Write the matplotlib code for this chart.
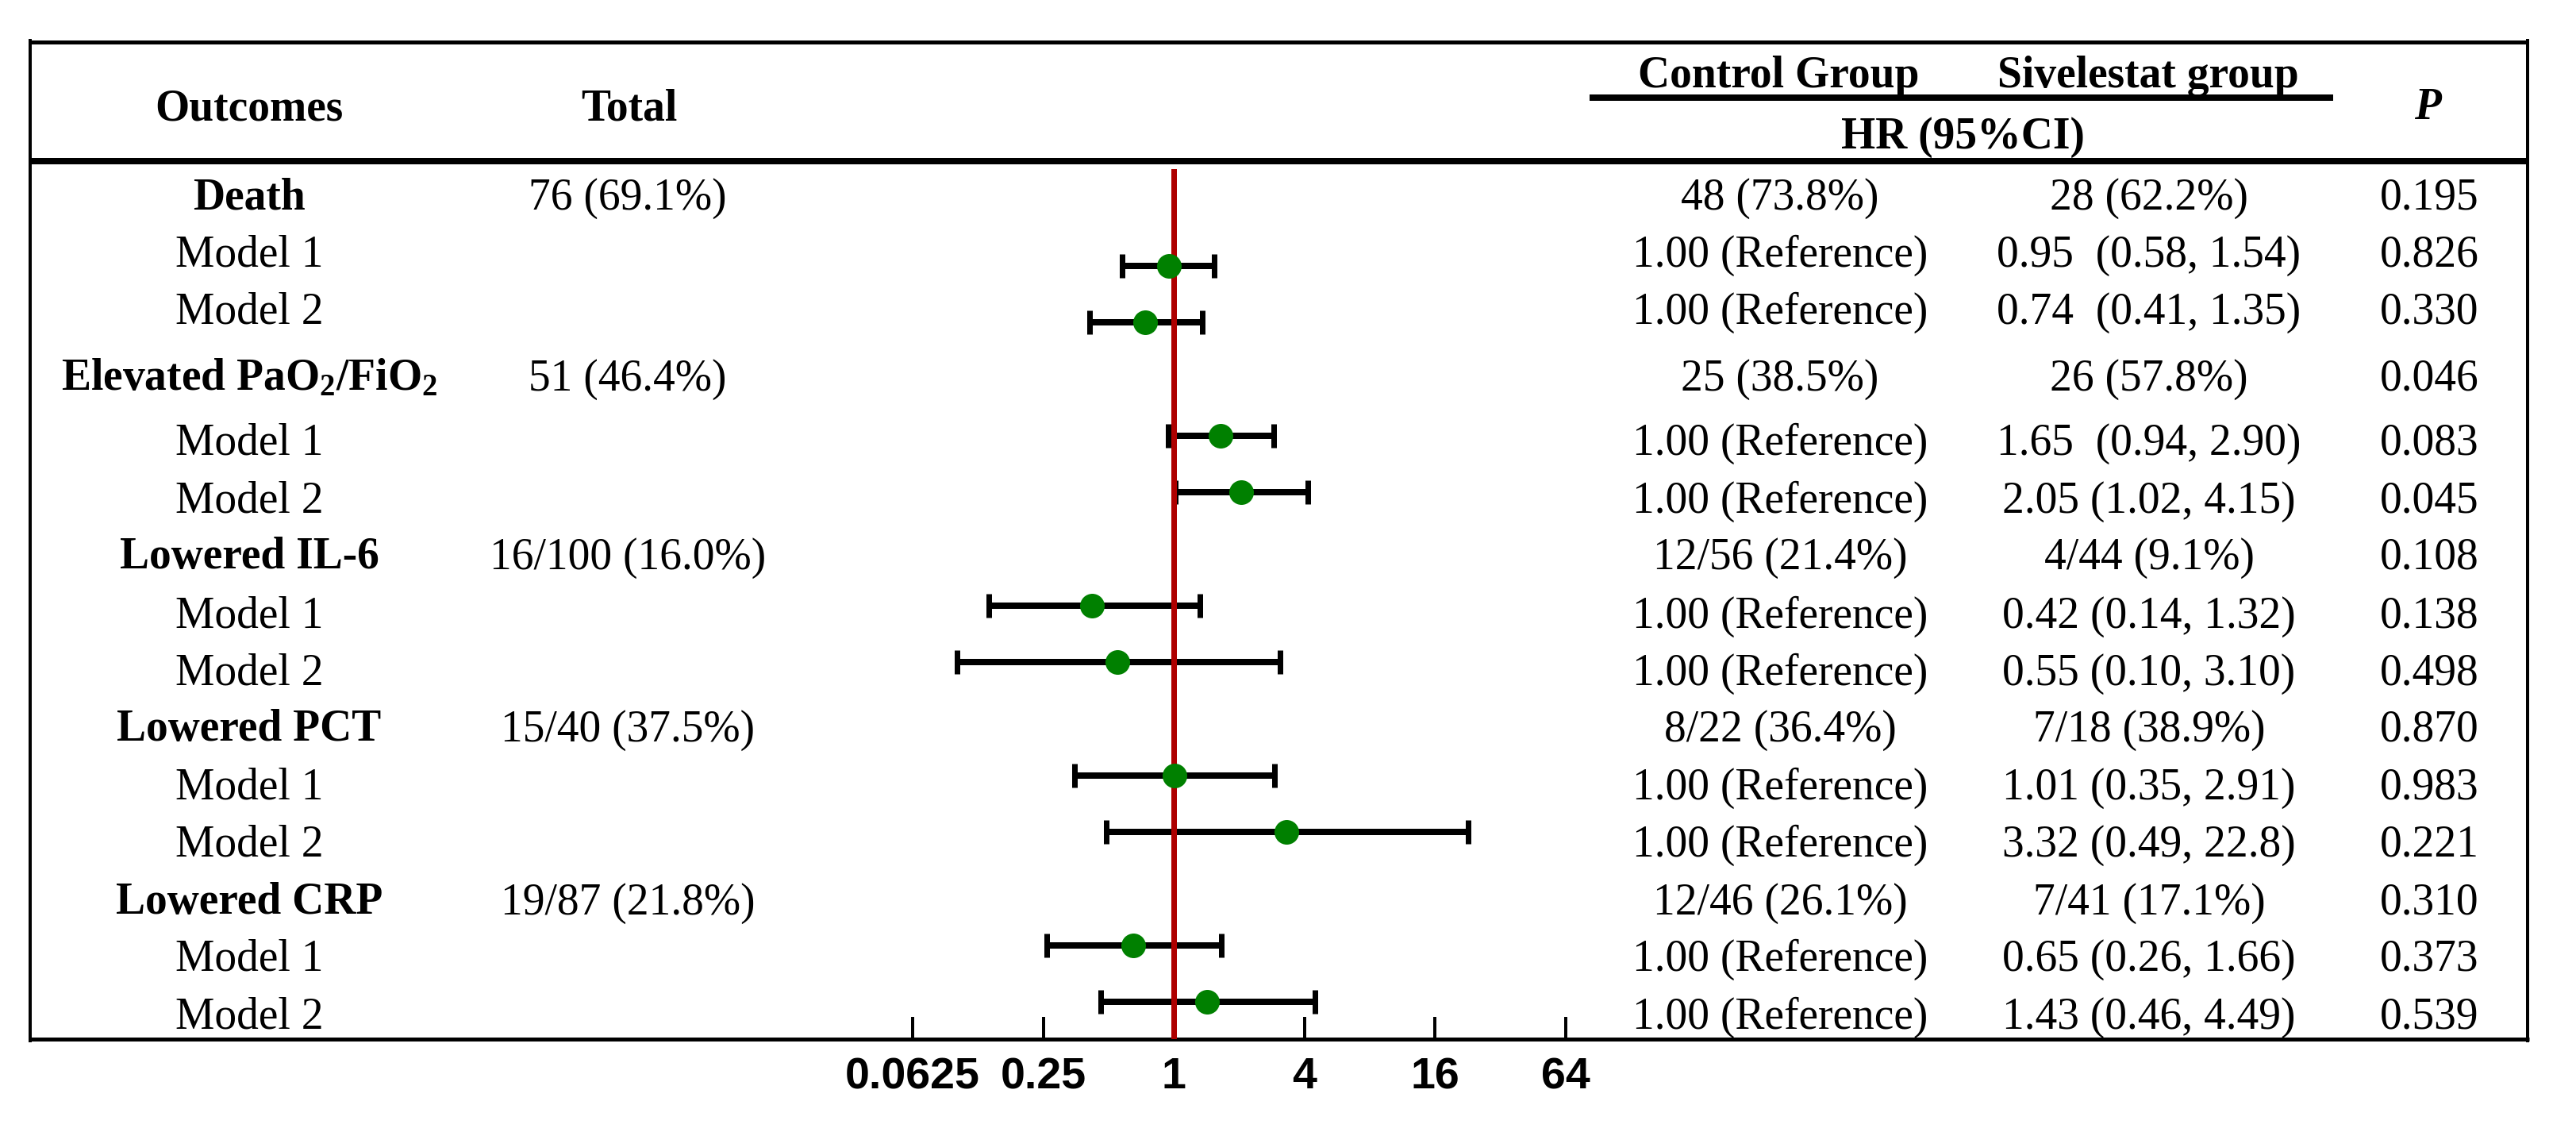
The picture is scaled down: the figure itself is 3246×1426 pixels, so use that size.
import matplotlib
matplotlib.use('Agg')
import matplotlib.pyplot as plt
import numpy as np

# ---------------- data ----------------
outcomes = ['Death', 'Model 1', 'Model 2',
            r'Elevated PaO$_\mathbf{2}$/FiO$_\mathbf{2}$', 'Model 1', 'Model 2',
            'Lowered IL-6', 'Model 1', 'Model 2',
            'Lowered PCT', 'Model 1', 'Model 2',
            'Lowered CRP', 'Model 1', 'Model 2']
is_group = [True, False, False] * 5
total = ['76 (69.1%)', '', '', '51 (46.4%)', '', '', '16/100 (16.0%)', '', '',
         '15/40 (37.5%)', '', '', '19/87 (21.8%)', '', '']
control = ['48 (73.8%)', '1.00 (Reference)', '1.00 (Reference)',
           '25 (38.5%)', '1.00 (Reference)', '1.00 (Reference)',
           '12/56 (21.4%)', '1.00 (Reference)', '1.00 (Reference)',
           '8/22 (36.4%)', '1.00 (Reference)', '1.00 (Reference)',
           '12/46 (26.1%)', '1.00 (Reference)', '1.00 (Reference)']
sivelestat = ['28 (62.2%)', '0.95  (0.58, 1.54)', '0.74  (0.41, 1.35)',
              '26 (57.8%)', '1.65  (0.94, 2.90)', '2.05 (1.02, 4.15)',
              '4/44 (9.1%)', '0.42 (0.14, 1.32)', '0.55 (0.10, 3.10)',
              '7/18 (38.9%)', '1.01 (0.35, 2.91)', '3.32 (0.49, 22.8)',
              '7/41 (17.1%)', '0.65 (0.26, 1.66)', '1.43 (0.46, 4.49)']
p_values = ['0.195', '0.826', '0.330', '0.046', '0.083', '0.045', '0.108', '0.138',
            '0.498', '0.870', '0.983', '0.221', '0.310', '0.373', '0.539']
hr = [np.nan, 0.95, 0.74, np.nan, 1.65, 2.05, np.nan, 0.42, 0.55,
      np.nan, 1.01, 3.32, np.nan, 0.65, 1.43]
ci_low = [np.nan, 0.58, 0.41, np.nan, 0.94, 1.02, np.nan, 0.14, 0.10,
          np.nan, 0.35, 0.49, np.nan, 0.26, 0.46]
ci_high = [np.nan, 1.54, 1.35, np.nan, 2.90, 4.15, np.nan, 1.32, 3.10,
           np.nan, 2.91, 22.8, np.nan, 1.66, 4.49]
tick_values = [0.0625, 0.25, 1, 4, 16, 64]
tick_labels = ['0.0625', '0.25', '1', '4', '16', '64']

# ---------------- layout ----------------
W, H = 3246, 1426
DPI = 100
PX = 72.0 / DPI  # points per pixel

plt.rcParams['mathtext.fontset'] = 'custom'
plt.rcParams['mathtext.rm'] = 'Liberation Serif'
plt.rcParams['mathtext.bf'] = 'Liberation Serif:bold'
plt.rcParams['mathtext.it'] = 'Liberation Serif:italic'

fig = plt.figure(figsize=(W / DPI, H / DPI), dpi=DPI)
fig.patch.set_facecolor('white')

ax0 = fig.add_axes([0, 0, 1, 1])
ax0.set_xlim(0, W)
ax0.set_ylim(H, 0)
ax0.axis('off')

FS = 40
serif = 'Liberation Serif'
cap_half = 18.4  # half cap height in px

L, R = 38, 3185
TOP, HSEP, BOT = 53, 203, 1309

# table rules
ax0.plot([L, R], [TOP, TOP], color='black', lw=5 * PX, solid_capstyle='butt')
ax0.plot([L, R], [HSEP, HSEP], color='black', lw=8 * PX, solid_capstyle='butt')
ax0.plot([L - 2, R + 2], [BOT, BOT], color='black', lw=5 * PX, solid_capstyle='butt')
ax0.plot([L, L], [TOP - 2, BOT + 2], color='black', lw=4 * PX)
ax0.plot([R, R], [TOP - 2, BOT + 2], color='black', lw=4 * PX)
ax0.plot([2003, 2940], [123, 123], color='black', lw=8 * PX, solid_capstyle='butt')

def put(x, ycap, s, **kw):
    ax0.text(x, ycap + cap_half, s, ha='center', va='baseline',
             fontsize=FS, family=serif, **kw)

# header
put(314, 133, 'Outcomes', fontweight='bold')
put(793, 133, 'Total', fontweight='bold')
put(2241, 92, 'Control Group', fontweight='bold')
put(2707, 92, 'Sivelestat group', fontweight='bold')
put(2473, 168, 'HR (95%CI)', fontweight='bold')
put(3059, 132, 'P', fontweight='bold', fontstyle='italic')

text_rows = [245, 317, 389, 473, 554, 627, 698, 772, 844, 915, 988, 1060, 1133, 1204, 1277]
for i, yc in enumerate(text_rows):
    put(314, yc, outcomes[i], fontweight='bold' if is_group[i] else 'normal')
    if total[i]:
        put(791, yc, total[i])
    put(2243, yc, control[i])
    put(2708, yc, sivelestat[i])
    put(3061, yc, p_values[i])

# ---------------- forest plot ----------------
X1 = 1479.0        # pixel of HR = 1
PER4 = 164.5       # pixels per factor of 4
Y0, DY = 263.7, 71.3  # pixel of row 0, row step
FX0, FX1 = 1000, 2100
FY_TOP = 213

axf = fig.add_axes([FX0 / W, (H - BOT) / H, (FX1 - FX0) / W, (BOT - FY_TOP) / H])
axf.patch.set_alpha(0)
axf.set_xscale('log', base=2)
axf.set_xlim(4 ** ((FX0 - X1) / PER4), 4 ** ((FX1 - X1) / PER4))
axf.set_ylim((BOT - Y0) / DY, (FY_TOP - Y0) / DY)
for s in axf.spines.values():
    s.set_visible(False)

rows = np.arange(len(hr))
hr_a = np.array(hr)
lo_a = np.array(ci_low)
hi_a = np.array(ci_high)
m = ~np.isnan(hr_a)

axf.errorbar(hr_a[m], rows[m], xerr=[hr_a[m] - lo_a[m], hi_a[m] - hr_a[m]],
             fmt='none', ecolor='black', elinewidth=8 * PX, capsize=15 * PX,
             capthick=7 * PX, zorder=1)
axf.axvline(1, color='#AE0000', lw=7 * PX, zorder=2)
axf.plot(hr_a[m], rows[m], 'o', color='#008000', markersize=31 * PX,
         markeredgewidth=0, zorder=3)

axf.set_xticks(tick_values)
axf.set_xticklabels(tick_labels)
axf.xaxis.set_minor_locator(matplotlib.ticker.NullLocator())
axf.tick_params(axis='x', direction='in', length=28 * PX, width=4 * PX,
                pad=16, labelsize=40, color='black')
for lab in axf.get_xticklabels():
    lab.set_fontfamily('Liberation Sans')
    lab.set_fontweight('bold')
axf.set_yticks([])

fig.savefig('out.png', dpi=DPI, facecolor='white')
